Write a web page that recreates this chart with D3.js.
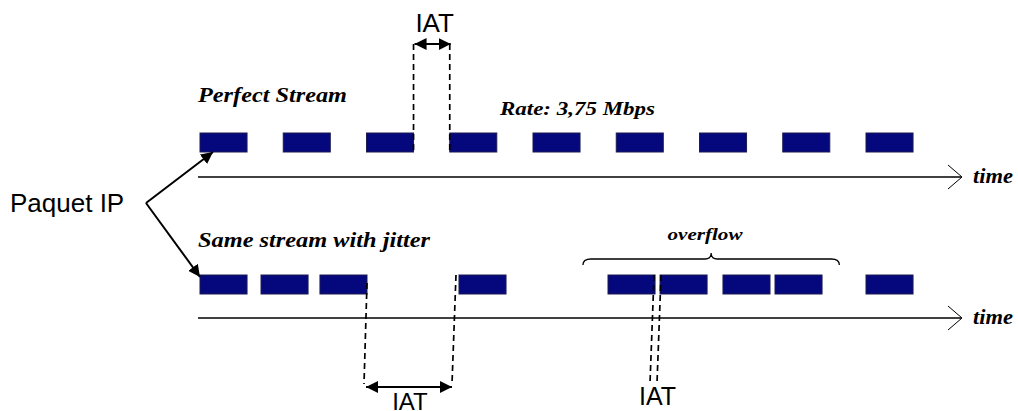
<!DOCTYPE html>
<html>
<head>
<meta charset="utf-8">
<script src="https://cdn.jsdelivr.net/npm/d3@7"></script>
<style>
  html, body { margin: 0; padding: 0; background: #fff; }
  svg { display: block; }
</style>
</head>
<body>
<svg id="chart" width="1018" height="411"></svg>
<script>
// ---- data (time in units of the nominal inter-arrival period) ----
const perfectStarts = [0, 1, 2, 3, 4, 5, 6, 7, 8];
const jitterStarts  = [0, 0.733, 1.441, 3.111, 4.901, 5.526, 6.282, 6.907, 8.0];
const packetDuration = 0.565;
const timeDomain = [0, 8];
const overflowRange = [4.6, 7.68];
const topIAT = [2, 3];               // gap between perfect packets index 2 -> 3
const jitterIATs = [[2, 3], [4, 5]]; // gaps between jitter packets
const labels = {
  perfect: "Perfect Stream",
  jitter: "Same stream with jitter",
  rate: "Rate: 3,75 Mbps",
  time: "time",
  iat: "IAT",
  packet: "Paquet IP",
  overflow: "overflow"
};

const svg = d3.select("#chart");
const x = d3.scaleLinear().domain(timeDomain).range([200, 866]);
const rows = d3.scaleOrdinal().domain(["perfect", "jitter"]).range([133, 275]);
const packetH = 19;
const axisY = { perfect: 177, jitter: 318 };
const navy = "#05077c";

const defs = svg.append("defs");
defs.append("marker").attr("id", "ah").attr("viewBox", "0 0 10 10")
  .attr("refX", 10).attr("refY", 5).attr("markerWidth", 12).attr("markerHeight", 12)
  .attr("markerUnits", "userSpaceOnUse").attr("orient", "auto-start-reverse")
  .append("path").attr("d", "M0,0 L10,5 L0,10 Z").attr("fill", "#000");

const serif = "'Liberation Serif', 'DejaVu Serif', serif";
const sans = "'Liberation Sans', Arial, sans-serif";

// packets
function drawPackets(starts, key) {
  svg.append("g").selectAll("rect").data(starts).join("rect")
    .attr("x", d => x(d))
    .attr("y", rows(key))
    .attr("width", x(packetDuration) - x(0))
    .attr("height", packetH)
    .attr("fill", navy)
    .attr("stroke", "#1c1c50")
    .attr("stroke-width", 1);
}
drawPackets(perfectStarts, "perfect");
drawPackets(jitterStarts, "jitter");

// time axes
function drawAxis(y) {
  svg.append("line").attr("x1", 198).attr("x2", 961).attr("y1", y).attr("y2", y)
    .attr("stroke", "#000").attr("stroke-width", 1.3);
  svg.append("path").attr("d", `M948,${y-12} L962,${y} L948,${y+12}`)
    .attr("fill", "none").attr("stroke", "#000").attr("stroke-width", 1);
  svg.append("text").attr("x", 973).attr("y", y + 6).text(labels.time)
    .attr("font-family", serif).attr("font-style", "italic").attr("font-weight", "bold")
    .attr("font-size", 20).attr("textLength", 40).attr("lengthAdjust", "spacingAndGlyphs");
}
drawAxis(axisY.perfect);
drawAxis(axisY.jitter);

// italic serif labels
function serifText(t, xx, yy, size, len, anchor) {
  svg.append("text").attr("x", xx).attr("y", yy).text(t)
    .attr("font-family", serif).attr("font-style", "italic").attr("font-weight", "bold")
    .attr("font-size", size).attr("text-anchor", anchor || "start")
    .attr("textLength", len).attr("lengthAdjust", "spacingAndGlyphs");
}
serifText(labels.perfect, 198, 102, 22, 149);
serifText(labels.rate, 500, 115, 18, 155);
serifText(labels.jitter, 198, 247, 22, 232);
serifText(labels.overflow, 705, 240, 17, 75, "middle");

function sansText(t, xx, yy, size, anchor) {
  svg.append("text").attr("x", xx).attr("y", yy).text(t)
    .attr("font-family", sans).attr("font-size", size).attr("fill", "#000")
    .attr("text-anchor", anchor || "start");
}

// dashed guides
function dashed(x1, y1, x2, y2) {
  svg.append("line").attr("x1", x1).attr("y1", y1).attr("x2", x2).attr("y2", y2)
    .attr("stroke", "#000").attr("stroke-width", 1.7).attr("stroke-dasharray", "6,4");
}
function dblArrow(x1, x2, y) {
  svg.append("line").attr("x1", x1).attr("x2", x2).attr("y1", y).attr("y2", y)
    .attr("stroke", "#000").attr("stroke-width", 2.2)
    .attr("marker-start", "url(#ah)").attr("marker-end", "url(#ah)");
}

// top IAT
{
  const a = x(perfectStarts[topIAT[0]] + packetDuration), b = x(perfectStarts[topIAT[1]]);
  dashed(a, 44, a, rows("perfect") + packetH);
  dashed(b, 44, b, rows("perfect") + packetH);
  dblArrow(a + 1, b + 1, 44);
  sansText(labels.iat, (a + b) / 2 + 3, 32, 26, "middle");
}
// bottom IAT 1 (large gap)
{
  const [i, j] = jitterIATs[0];
  const a = x(jitterStarts[i] + packetDuration), b = x(jitterStarts[j]);
  dashed(a, rows("jitter") + 8, a - 3, 384);
  dashed(b - 3, rows("jitter"), b - 7, 384);
  dblArrow(a - 1, b - 7, 387);
  sansText(labels.iat, (a + b) / 2 - 3, 410, 24, "middle");
}
// bottom IAT 2 (tiny gap)
{
  const [i, j] = jitterIATs[1];
  const a = x(jitterStarts[i] + packetDuration), b = x(jitterStarts[j]);
  dashed(a - 1, rows("jitter"), a - 5, 382);
  dashed(b + 1, rows("jitter"), b - 3, 382);
  sansText(labels.iat, (a + b) / 2, 405, 25, "middle");
}

// overflow brace
{
  const x0 = x(overflowRange[0]), x1 = x(overflowRange[1]), xm = (x0 + x1) / 2, y = 259;
  const d = `M${x0},${y+6} Q${x0},${y} ${x0+8},${y} L${xm-6},${y} Q${xm},${y} ${xm},${y-6} Q${xm},${y} ${xm+6},${y} L${x1-8},${y} Q${x1},${y} ${x1},${y+6}`;
  svg.append("path").attr("d", d).attr("fill", "none").attr("stroke", "#000").attr("stroke-width", 1.3);
}

// Paquet IP label + arrows
sansText(labels.packet, 10, 212, 26);
{
  const vx = 146, vy = 203;
  svg.append("line").attr("x1", vx).attr("y1", vy).attr("x2", x(perfectStarts[0]) + 13).attr("y2", rows("perfect") + packetH)
    .attr("stroke", "#000").attr("stroke-width", 2).attr("marker-end", "url(#ah)");
  svg.append("line").attr("x1", vx).attr("y1", vy).attr("x2", x(jitterStarts[0])).attr("y2", rows("jitter") + 2)
    .attr("stroke", "#000").attr("stroke-width", 2).attr("marker-end", "url(#ah)");
}
</script>
</body>
</html>
